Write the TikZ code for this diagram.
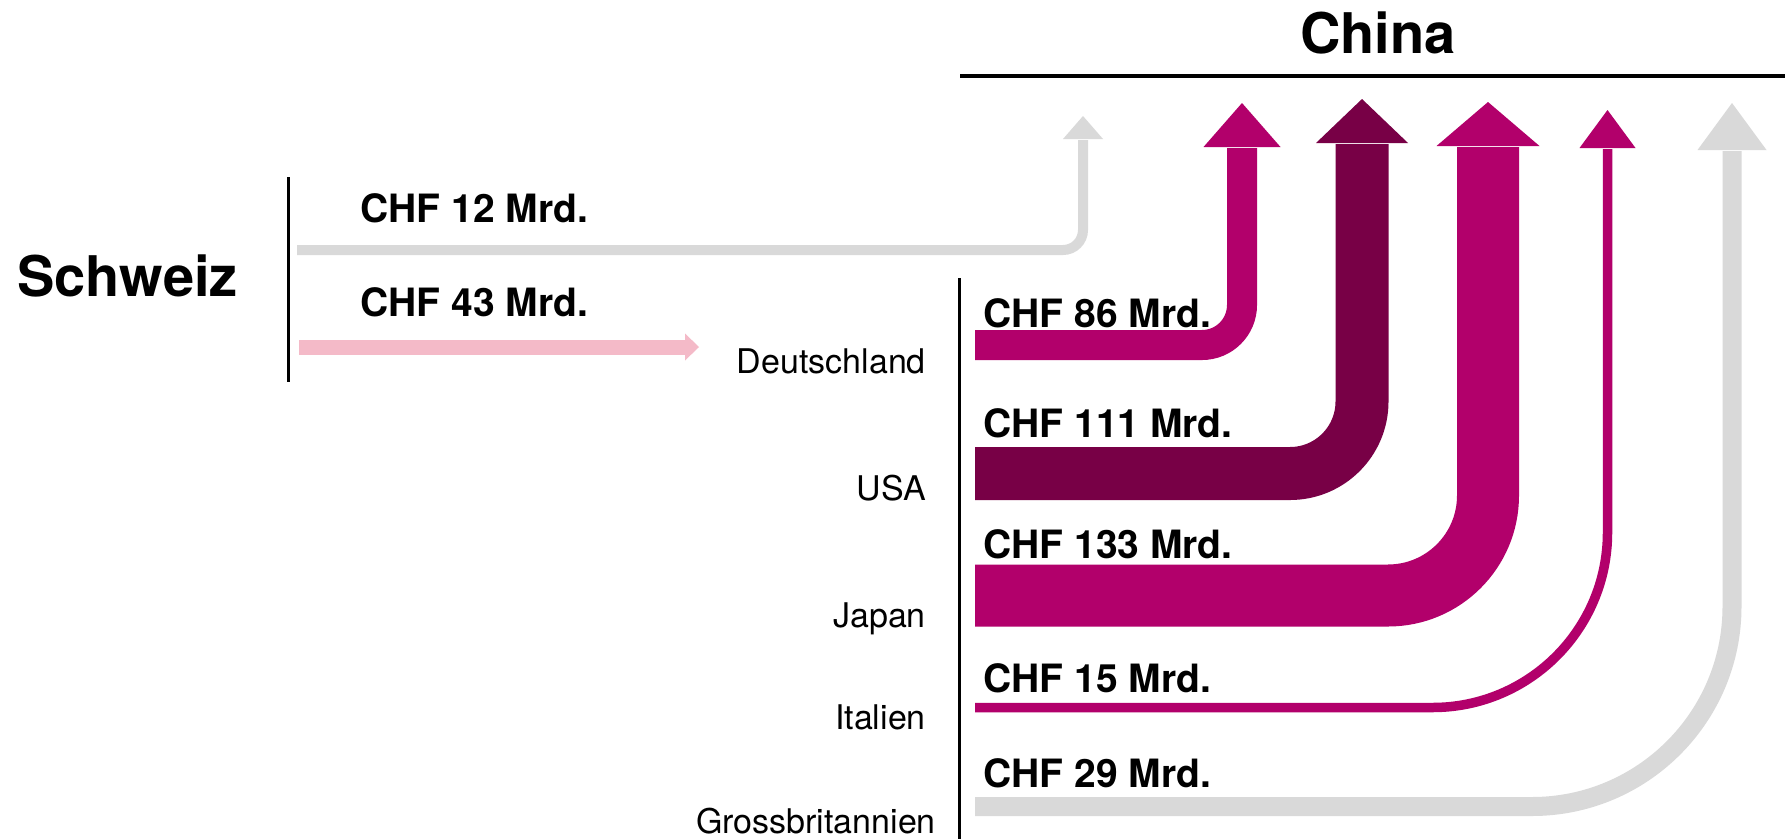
\documentclass[tikz,border=0pt]{standalone}
\usepackage{fontspec}
\setmainfont{TeX Gyre Heros}
\definecolor{magenta1}{RGB}{178,0,107}
\definecolor{darkmag}{RGB}{120,0,70}
\definecolor{lgray}{RGB}{217,217,217}
\definecolor{lpink}{RGB}{244,186,200}
\begin{document}
\begin{tikzpicture}[x=1pt,y=-1pt,
  amount/.style={anchor=base west,inner sep=0pt,font=\fontsize{39}{39}\selectfont\bfseries},
  country/.style={anchor=base east,inner sep=0pt,font=\fontsize{34}{34}\selectfont},
  title/.style={anchor=base west,inner sep=0pt,font=\fontsize{56}{56}\selectfont\bfseries},
  rule/.style={line width=3pt,black},
  band/.style={line cap=butt}]
\useasboundingbox[fill=white] (0,0) rectangle (1785,839);

% titles
\node[title] (china) at (1300,53) {China};
\node[title] (schweiz) at (17,296) {Schweiz};
\draw[rule,line width=3.5pt] (960,76) coordinate (cl) -- (1785,76) coordinate (cr);
\draw[rule] (288,177) coordinate (sw1) -- (288,382) coordinate (sw2);
\draw[rule] (959,278) coordinate (d1) -- (959,839) coordinate (d2);

% amounts
\node[amount] (a12) at (360,222) {CHF 12 Mrd.};
\node[amount] (a43) at (360,316) {CHF 43 Mrd.};
\node[amount] (a86) at (983,327) {CHF 86 Mrd.};
\node[amount] (a111) at (983,437) {CHF 111 Mrd.};
\node[amount] (a133) at (983,558) {CHF 133 Mrd.};
\node[amount] (a15) at (983,692) {CHF 15 Mrd.};
\node[amount] (a29) at (983,787) {CHF 29 Mrd.};

% countries
\node[country] (de) at (926,373) {Deutschland};
\node[country] (us) at (926,500) {USA};
\node[country] (jp) at (926,627) {Japan};
\node[country] (it) at (926,729) {Italien};
\node[country] (gb) at (936,833) {Grossbritannien};

% coordinates
\coordinate (s12) at (297,250);   \coordinate (h12) at (1083,140);
\coordinate (s43) at (299,347);   \coordinate (h43) at (686,347);
\coordinate (s86) at (975,345);   \coordinate (h86) at (1242,148);
\coordinate (s111) at (975,473.5);\coordinate (h111) at (1362,144);
\coordinate (s133) at (975,595.5);\coordinate (h133) at (1488,147);
\coordinate (s15) at (975,707.5); \coordinate (h15) at (1607.5,149);
\coordinate (s29) at (975,806.5); \coordinate (h29) at (1732,151);

% bands
\draw[band,lgray,line width=10pt,rounded corners=20pt] (s12) -| (h12);
\draw[band,lpink,line width=15pt] (s43) -- (h43);
\draw[band,magenta1,line width=30pt,rounded corners=40pt] (s86) -| (h86);
\draw[band,darkmag,line width=53pt,rounded corners=72pt] (s111) -| (h111);
\draw[band,magenta1,line width=62pt,rounded corners=100pt] (s133) -| (h133);
\draw[band,magenta1,line width=9.5pt,rounded corners=175pt] (s15) -| (h15);
\draw[band,lgray,line width=19pt,rounded corners=200pt] (s29) -| (h29);

% heads
\fill[lgray] (1063,139) -- (1103,139) -- (1083,116) -- cycle;
\fill[lpink] (685,333.5) -- (685,360.5) -- (699,347) -- cycle;
\fill[magenta1] (1203.5,147) -- (1280.5,147) -- (1242,103) -- cycle;
\fill[darkmag] (1316,143) -- (1408,143) -- (1362,99) -- cycle;
\fill[magenta1] (1436.5,146) -- (1539.5,146) -- (1488,102) -- cycle;
\fill[magenta1] (1579.5,148) -- (1635.5,148) -- (1607.5,110) -- cycle;
\fill[lgray] (1697.5,150) -- (1766.5,150) -- (1732,103) -- cycle;
\end{tikzpicture}
\end{document}
